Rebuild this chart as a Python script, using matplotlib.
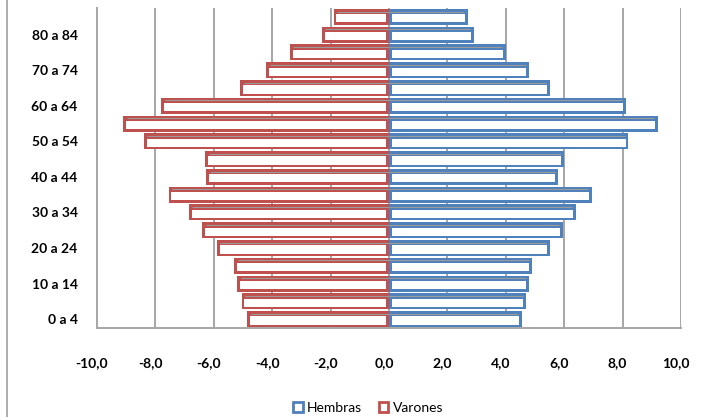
import numpy as np
import matplotlib
matplotlib.use("Agg")
import matplotlib.pyplot as plt
from matplotlib.patches import Patch
from matplotlib.lines import Line2D
from matplotlib.transforms import ScaledTranslation

# age groups, bottom to top
grupos = ["0 a 4", "5 a 9", "10 a 14", "15 a 19", "20 a 24", "25 a 29",
          "30 a 34", "35 a 39", "40 a 44", "45 a 49", "50 a 54", "55 a 59",
          "60 a 64", "65 a 69", "70 a 74", "75 a 79", "80 a 84", "85 y más"]
hembras = [4.55, 4.7, 4.8, 4.9, 5.5, 5.95, 6.4, 6.95, 5.8, 6.0,
           8.2, 9.2, 8.1, 5.5, 4.8, 4.0, 2.9, 2.7]
varones = [-4.85, -5.05, -5.2, -5.3, -5.9, -6.4, -6.85, -7.55, -6.25, -6.3,
           -8.4, -9.1, -7.8, -5.1, -4.2, -3.4, -2.3, -1.9]
xticks = [-10, -8, -6, -4, -2, 0, 2, 4, 6, 8, 10]

blue = "#4F81BD"
red = "#C0504D"
grid_col = "#A6A6A6"

plt.rcParams['font.family'] = ['Lato', 'DejaVu Sans']

fig = plt.figure(figsize=(7.04, 4.17), dpi=100)
ax = fig.add_axes([97 / 704, 1 - 328 / 417, 584 / 704, 320 / 417])

y = np.arange(len(grupos))
h = 0.9
inset_x = 0.1
for vals, col in ((hembras, blue), (varones, red)):
    vals = np.array(vals)
    sgn = np.sign(vals)
    # full coloured block (edges + top face)
    ax.barh(y, vals, height=h, color=col, zorder=3)
    # white front face
    ax.barh(y - 0.08, vals - sgn * 2 * inset_x, left=sgn * inset_x,
            height=0.46, color="white", zorder=4)
    # thin grey ridge along the top face
    ax.hlines(y + 0.3, 0, vals - sgn * 0.12, color="#9A9A9A", lw=0.8, zorder=5)

for xv in xticks[1:]:
    ax.axvline(xv, color=grid_col, lw=1.4, zorder=1)

ax.set_xlim(-10, 10)
ax.set_ylim(-0.5, len(grupos) - 0.5)
ax.set_yticks(y[::2])
ax.set_yticklabels(grupos[::2], fontweight="bold", fontsize=10)
ax.set_xticks(xticks)
ax.set_xticklabels([f"{v:.1f}".replace(".", ",") for v in xticks],
                   fontweight="bold", fontsize=10)
ax.tick_params(axis="both", length=0)
ax.tick_params(axis="x", pad=21)
ax.tick_params(axis="y", pad=14)
off = ScaledTranslation(-5 / 100, 0, fig.dpi_scale_trans)
for lab in ax.get_xticklabels():
    lab.set_transform(lab.get_transform() + off)

for s in ("top", "right"):
    ax.spines[s].set_visible(False)
for s in ("left", "bottom"):
    ax.spines[s].set_color(grid_col)
    ax.spines[s].set_linewidth(1.4)

# chart-area border on the left
fig.add_artist(Line2D([7 / 704, 7 / 704], [0, 1], color="#A0A0A0", lw=1.2,
                      transform=fig.transFigure))

handles = [Patch(facecolor="white", edgecolor=blue, lw=2, label="Hembras"),
           Patch(facecolor="white", edgecolor=red, lw=2, label="Varones")]
fig.legend(handles=handles, loc="center", bbox_to_anchor=(368 / 704, 1 - 408 / 417),
           ncol=2, frameon=False, fontsize=10, handlelength=0.7, handleheight=0.7,
           handletextpad=0.3, columnspacing=1.2)

fig.savefig("out.png", dpi=100)
